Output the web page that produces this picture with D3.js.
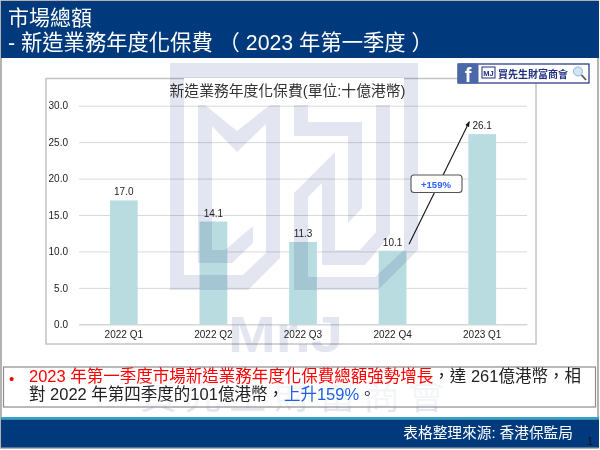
<!DOCTYPE html>
<html>
<head>
<meta charset="utf-8">
<script src="https://cdn.jsdelivr.net/npm/d3@7"></script>
<style>
  html, body { margin: 0; padding: 0; background: #fff; }
  svg { display: block; font-family: "Liberation Sans", "Noto Sans CJK TC", sans-serif; }
</style>
</head>
<body>
<div id="chart"></div>
<script>
const categories = ['2022 Q1', '2022 Q2', '2022 Q3', '2022 Q4', '2023 Q1'];
const premiums = [17.0, 14.1, 11.3, 10.1, 26.1];
const yTicks = [0, 5, 10, 15, 20, 25, 30];
const arrowValues = [11, 27.8];

const width = 600, height = 450;
const margin = { top: 105.7, right: 73, bottom: 125.7, left: 79 };
const navy = '#003A7D';

const svg = d3.select('#chart').append('svg')
  .attr('width', width)
  .attr('height', height);

svg.append('rect').attr('width', width).attr('height', height).attr('fill', '#fff');

// page border
svg.append('rect')
  .attr('x', 1).attr('y', 1).attr('width', 597).attr('height', 447)
  .attr('fill', 'none').attr('stroke', '#9a9a9a').attr('stroke-width', 1.5);

// chart frame
svg.append('rect')
  .attr('x', 46).attr('y', 78.5).attr('width', 490).attr('height', 265.5)
  .attr('fill', '#fff').attr('stroke', '#c4c4c4').attr('stroke-width', 1.5);

const x = d3.scaleBand()
  .domain(categories)
  .range([margin.left, width - margin.right])
  .paddingInner(0.69)
  .paddingOuter(0.345);

const y = d3.scaleLinear()
  .domain([0, 30])
  .range([height - margin.bottom, margin.top]);

const yAxis = svg.append('g')
  .attr('transform', `translate(${margin.left},0)`)
  .call(d3.axisLeft(y)
    .tickValues(yTicks)
    .tickFormat(d3.format('.1f'))
    .tickSize(-(width - margin.left - margin.right))
    .tickPadding(11));
yAxis.select('.domain').remove();
yAxis.selectAll('line').attr('stroke', '#d9d9d9').attr('stroke-width', 1);
yAxis.selectAll('text').attr('fill', '#222').attr('font-size', 10).attr('font-family', 'Liberation Sans');

const xAxis = svg.append('g')
  .attr('transform', `translate(0,${height - margin.bottom})`)
  .call(d3.axisBottom(x).tickSize(0).tickPadding(7));
xAxis.select('.domain').attr('stroke', '#d0d0d0');
xAxis.selectAll('text').attr('fill', '#222').attr('font-size', 10).attr('font-family', 'Liberation Sans');

svg.selectAll('.bar')
  .data(premiums)
  .enter()
  .append('rect')
  .attr('class', 'bar')
  .attr('x', (d, i) => x(categories[i]))
  .attr('y', d => y(d))
  .attr('width', x.bandwidth())
  .attr('height', d => y(0) - y(d))
  .attr('fill', '#B8DCDF');

svg.selectAll('.value')
  .data(premiums)
  .enter()
  .append('text')
  .attr('class', 'value')
  .attr('x', (d, i) => x(categories[i]) + x.bandwidth() / 2)
  .attr('y', d => y(d) - 5)
  .attr('text-anchor', 'middle')
  .attr('font-size', 10)
  .attr('fill', '#222')
  .text(d => d.toFixed(1));

// logo watermark, multiplied so the bars darken under it
const logo = svg.append('g').style('mix-blend-mode', 'multiply').attr('fill', '#E3E6F1');
logo.append('path').attr('d',
  'M170,63 L418,63 L418,250 L378,290 L294,290 L294,193 L335,152 L335,250 L360,250 L376,232 L376,105 L390,105 ' +
  'L390,235 L365,265 L322,265 L322,183 L308,197 L308,277 L375,277 L404,250 L404,78 L184,78 L184,275 L243,275 ' +
  'L266,253 L266,124 L237,152 L212,126 L212,250 L225,250 L253,226 L253,243 L232,263 L198,263 L198,105 L205,105 ' +
  'L237,131 L270,105 L280,105 L280,258 L248,290 L170,290 Z');
logo.append('path').attr('d', 'M294,105 L308,105 L308,122 L362,122 L362,208 L348,223 L348,136 L294,136 Z');
logo.append('text')
  .attr('x', 228).attr('y', 352)
  .attr('textLength', 115).attr('lengthAdjust', 'spacingAndGlyphs')
  .attr('font-size', 50).attr('font-weight', 'bold')
  .text('Mr.J');
logo.append('text')
  .attr('x', 140).attr('y', 409)
  .attr('textLength', 305).attr('lengthAdjust', 'spacing')
  .attr('font-size', 37)
  .text('買先生財富商會');

// title sits on a white box that hides the logo
svg.append('rect')
  .attr('x', 184).attr('y', 78).attr('width', 220).attr('height', 27)
  .attr('fill', '#fff');
svg.append('text')
  .attr('x', 287.5).attr('y', 95.5)
  .attr('text-anchor', 'middle')
  .attr('font-size', 14.8)
  .attr('fill', '#333')
  .text('新造業務年度化保費(單位:十億港幣)');

// growth arrow
svg.append('defs').append('marker')
  .attr('id', 'arrow')
  .attr('viewBox', '0 0 10 10')
  .attr('refX', 9).attr('refY', 5)
  .attr('markerWidth', 5).attr('markerHeight', 5)
  .attr('orient', 'auto')
  .append('path').attr('d', 'M0,1 L10,5 L0,9 Z').attr('fill', '#111');
svg.append('line')
  .attr('x1', x(categories[3]) + x.bandwidth() + 2.5)
  .attr('y1', y(arrowValues[0]))
  .attr('x2', x(categories[4]) + 1)
  .attr('y2', y(arrowValues[1]))
  .attr('stroke', '#111').attr('stroke-width', 1.1)
  .attr('marker-end', 'url(#arrow)');
svg.append('rect')
  .attr('x', 411).attr('y', 175).attr('width', 51).attr('height', 17.5).attr('rx', 3)
  .attr('fill', '#fff').attr('stroke', '#555').attr('stroke-width', 1.1);
svg.append('text')
  .attr('x', 436).attr('y', 188)
  .attr('text-anchor', 'middle')
  .attr('font-size', 9.6).attr('font-weight', 'bold')
  .attr('fill', '#2962FF')
  .text('+159%');

// header
svg.append('rect').attr('x', 1).attr('y', 1).attr('width', 598).attr('height', 57).attr('fill', navy);
svg.append('text')
  .attr('x', 8).attr('y', 25).attr('font-size', 21).attr('fill', '#fff')
  .text('市場總額');
svg.append('text')
  .attr('x', 8).attr('y', 50).attr('font-size', 21.3).attr('fill', '#fff')
  .style('white-space', 'pre')
  .text('- 新造業務年度化保費 （ 2023 年第一季度 ）');

// facebook badge
const badge = svg.append('g');
badge.append('rect')
  .attr('x', 458).attr('y', 64).attr('width', 131).attr('height', 19)
  .attr('fill', '#fff').attr('stroke', '#1F2F7F').attr('stroke-width', 1.2);
badge.append('rect')
  .attr('x', 458).attr('y', 63.5).attr('width', 20.5).attr('height', 20).attr('rx', 2)
  .attr('fill', '#4A67A8');
badge.append('text')
  .attr('x', 468).attr('y', 82).attr('font-size', 20).attr('font-weight', 'bold')
  .attr('text-anchor', 'middle').attr('fill', '#fff')
  .text('f');
badge.append('rect')
  .attr('x', 482).attr('y', 67).attr('width', 13).attr('height', 11)
  .attr('fill', '#fff').attr('stroke', '#1F2F7F').attr('stroke-width', 1);
badge.append('text')
  .attr('x', 488.5).attr('y', 75.5).attr('font-size', 7.5).attr('font-weight', 'bold')
  .attr('text-anchor', 'middle').attr('fill', '#1F2F7F')
  .text('MJ');
badge.append('text')
  .attr('x', 498).attr('y', 77.5).attr('font-size', 10).attr('font-weight', 'bold')
  .attr('fill', '#1F2F7F')
  .text('買先生財富商會');
badge.append('circle')
  .attr('cx', 578).attr('cy', 71.5).attr('r', 4.5)
  .attr('fill', '#CFE6F7').attr('stroke', '#8FB4D2').attr('stroke-width', 1);
badge.append('line')
  .attr('x1', 581.5).attr('y1', 75).attr('x2', 586).attr('y2', 80)
  .attr('stroke', '#555').attr('stroke-width', 1.8);

// note box
svg.append('rect')
  .attr('x', 3.5).attr('y', 367).attr('width', 592).attr('height', 40)
  .attr('fill', '#fff').attr('fill-opacity', 0.6)
  .attr('stroke', '#8c8c8c').attr('stroke-width', 1.2);
svg.append('text')
  .attr('x', 9).attr('y', 384).attr('font-size', 15).attr('fill', '#FF0000')
  .text('•');
const line1 = svg.append('text')
  .attr('x', 29).attr('y', 382).attr('font-size', 16.5);
line1.append('tspan').attr('fill', '#FF0000').text('2023 年第一季度市場新造業務年度化保費總額強勢增長');
line1.append('tspan').attr('fill', '#222').text('，達 261億港幣，相');
const line2 = svg.append('text')
  .attr('x', 29).attr('y', 400).attr('font-size', 16.5);
line2.append('tspan').attr('fill', '#222').text('對 2022 年第四季度的101億港幣，');
line2.append('tspan').attr('fill', '#1F5FE0').text('上升159%');
line2.append('tspan').attr('fill', '#222').text('。');

// footer
svg.append('rect').attr('x', 1).attr('y', 417).attr('width', 598).attr('height', 2.5).attr('fill', '#2FA6C8');
svg.append('rect').attr('x', 1).attr('y', 419.5).attr('width', 598).attr('height', 28).attr('fill', navy);
svg.append('text')
  .attr('x', 573).attr('y', 438).attr('text-anchor', 'end').attr('font-size', 14.7).attr('fill', '#fff')
  .text('表格整理來源: 香港保監局');
svg.append('text')
  .attr('x', 590).attr('y', 445).attr('text-anchor', 'middle').attr('font-size', 10).attr('fill', '#111')
  .text('1');
</script>
</body>
</html>
